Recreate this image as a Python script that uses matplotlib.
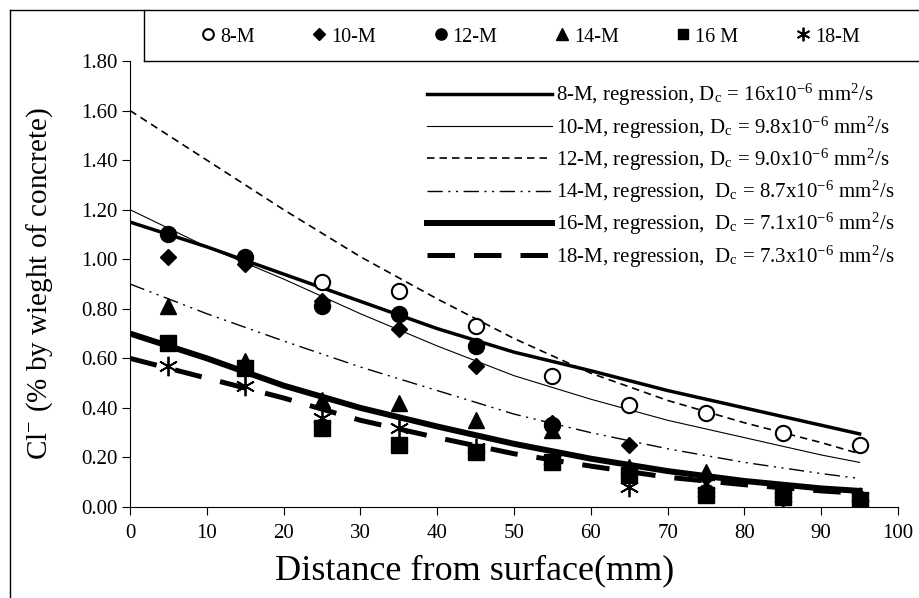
import numpy as np
import matplotlib
matplotlib.use("Agg")
import matplotlib.pyplot as plt
from matplotlib.lines import Line2D

plt.rcParams['font.family'] = ['Liberation Serif', 'DejaVu Serif']
plt.rcParams['mathtext.fontset'] = 'stix'

# measured data (depth in mm, Cl- % by weight of concrete)
depth = [5, 15, 25, 35, 45, 55, 65, 75, 85, 95]
depth_8 = [25, 35, 45, 55, 65, 75, 85, 95]
cl_8 = [0.91, 0.87, 0.73, 0.53, 0.41, 0.38, 0.30, 0.25]
cl_10 = [1.01, 0.98, 0.83, 0.72, 0.57, 0.34, 0.25, 0.12, 0.05, 0.04]
cl_12 = [1.10, 1.01, 0.81, 0.78, 0.65, 0.33, 0.14, 0.06, 0.04, 0.03]
cl_14 = [0.81, 0.59, 0.43, 0.42, 0.35, 0.31, 0.16, 0.14, 0.05, 0.03]
cl_16 = [0.66, 0.56, 0.32, 0.25, 0.22, 0.18, 0.13, 0.05, 0.04, 0.03]
cl_18 = [0.57, 0.49, 0.36, 0.32, 0.24, 0.19, 0.08, 0.06, 0.04, 0.04]

# regression curves
reg_x = [0, 10, 20, 30, 40, 50, 60, 70, 80, 90, 95]
reg_8 = [1.15, 1.05, 0.94, 0.83, 0.72, 0.625, 0.55, 0.47, 0.40, 0.33, 0.295]
reg_10 = [1.20, 1.05, 0.92, 0.78, 0.65, 0.53, 0.435, 0.35, 0.28, 0.21, 0.18]
reg_12 = [1.60, 1.40, 1.20, 1.01, 0.84, 0.68, 0.54, 0.43, 0.34, 0.26, 0.215]
reg_14 = [0.90, 0.78, 0.67, 0.565, 0.47, 0.375, 0.30, 0.235, 0.18, 0.135, 0.115]
reg_16 = [0.70, 0.60, 0.49, 0.40, 0.325, 0.255, 0.195, 0.145, 0.105, 0.075, 0.065]
reg_18 = [0.60, 0.52, 0.44, 0.35, 0.28, 0.215, 0.165, 0.12, 0.09, 0.065, 0.055]

reg_labels = [
    r'8-M, regression, D$_\mathregular{c}$ = 16x10$^\mathregular{-6}$ mm$^\mathregular{2}$/s',
    r'10-M, regression, D$_\mathregular{c}$ = 9.8x10$^\mathregular{-6}$ mm$^\mathregular{2}$/s',
    r'12-M, regression, D$_\mathregular{c}$ = 9.0x10$^\mathregular{-6}$ mm$^\mathregular{2}$/s',
    r'14-M, regression,  D$_\mathregular{c}$ = 8.7x10$^\mathregular{-6}$ mm$^\mathregular{2}$/s',
    r'16-M, regression,  D$_\mathregular{c}$ = 7.1x10$^\mathregular{-6}$ mm$^\mathregular{2}$/s',
    r'18-M, regression,  D$_\mathregular{c}$ = 7.3x10$^\mathregular{-6}$ mm$^\mathregular{2}$/s',
]

fig = plt.figure(figsize=(9.2, 5.98), dpi=100)
ax = fig.add_axes([130/920, 1-507/598, 768/920, 446/598])

# regression lines
l8, = ax.plot(reg_x, reg_8, color='k', lw=2.5, label=reg_labels[0])
l10, = ax.plot(reg_x, reg_10, color='k', lw=0.8, label=reg_labels[1])
l12, = ax.plot(reg_x, reg_12, color='k', lw=1.2, dashes=(4.5, 3), label=reg_labels[2])
l14, = ax.plot(reg_x, reg_14, color='k', lw=1.0, dashes=(11, 4, 1.5, 4, 1.5, 4), label=reg_labels[3])
l16, = ax.plot(reg_x, reg_16, color='k', lw=4.3, label=reg_labels[4])
l18, = ax.plot(reg_x, reg_18, color='k', lw=3.6, dashes=(5.5, 3.8), label=reg_labels[5])

# measured points
p8, = ax.plot(depth_8, cl_8, 'o', ms=11, mfc='white', mec='k', mew=1.5, ls='none', label='8-M', zorder=3)
p10, = ax.plot(depth, cl_10, 'D', ms=8.5, color='k', ls='none', label='10-M', zorder=3)
p12, = ax.plot(depth, cl_12, 'o', ms=11.5, color='k', ls='none', label='12-M', zorder=3)
p14, = ax.plot(depth, cl_14, '^', ms=12, color='k', ls='none', label='14-M', zorder=3)
p16, = ax.plot(depth, cl_16, 's', ms=11, color='k', ls='none', label='16 M', zorder=3)
p18, = ax.plot(depth, cl_18, marker=(6, 2, 0), ms=14, mew=1.3, color='k', ls='none', label='18-M', zorder=3)

ax.set_xlim(0, 100)
ax.set_ylim(0, 1.8)
ax.set_xticks(np.arange(0, 101, 10))
ax.set_yticks(np.arange(0, 1.81, 0.2))
ax.yaxis.set_major_formatter(matplotlib.ticker.FormatStrFormatter('%.2f'))
ax.spines['top'].set_visible(False)
ax.spines['right'].set_visible(False)
ax.tick_params(direction='out', length=5.5, width=0.8, labelsize=15)
ax.tick_params(axis='x', pad=7)

ax.set_xlabel('Distance from surface(mm)', fontsize=26)
ax.xaxis.set_label_coords((475-130)/768, -0.105)
ax.set_ylabel(r'Cl$^\mathregular{-}$ (% by wieght of concrete)', fontsize=21)
ax.yaxis.set_label_coords(-0.098, 0.5)

leg = ax.legend(handles=[l8, l10, l12, l14, l16, l18], loc='upper right',
                bbox_to_anchor=(1.02, 0.995), frameon=False, fontsize=15,
                handlelength=6.0, handletextpad=0.2, labelspacing=0.28)

fig.legend(handles=[p8, p10, p12, p14, p16, p18], loc='center',
           bbox_to_anchor=(530/920, 1-37/598), ncol=6, frameon=False,
           fontsize=14.5, handlelength=0.8, handletextpad=0.2, columnspacing=2.8,
           markerscale=0.7)

# outer frame and legend box
fx0, fy0 = 10/920, 1-10/598
bx, by = 144/920, 1-61/598
for xs, ys in [([fx0, 1], [fy0, fy0]), ([fx0, fx0], [0, fy0]),
               ([bx, bx], [by, fy0]), ([bx, 1], [by, by])]:
    fig.add_artist(Line2D(xs, ys, transform=fig.transFigure, color='k', lw=1.0))

fig.savefig('out.png', dpi=100)
